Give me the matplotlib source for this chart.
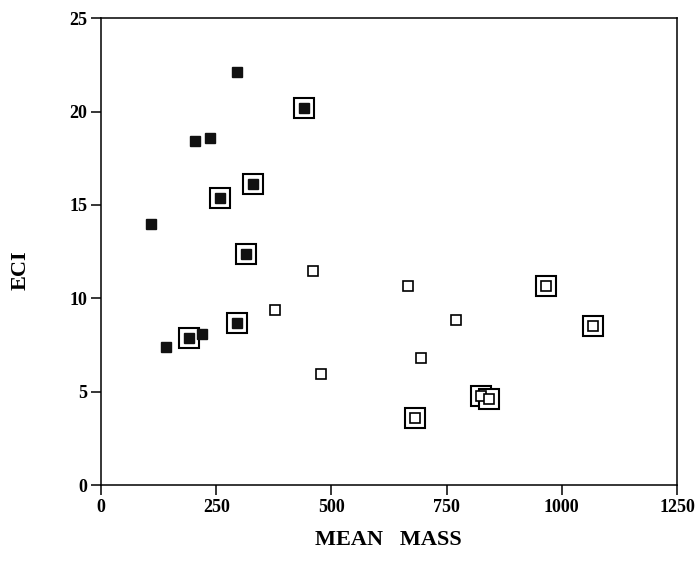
import matplotlib
matplotlib.use("Agg")
import matplotlib.pyplot as plt

# Filled squares (plain)
filled_x = [295, 204, 237, 109, 140, 219]
filled_y = [22.1, 18.4, 18.6, 14.0, 7.4, 8.07]
# Filled squares with outer frame
filled_boxed_x = [441, 330, 259, 314, 296, 191]
filled_boxed_y = [20.2, 16.1, 15.36, 12.36, 8.66, 7.87]
# Open squares (plain)
open_x = [461, 378, 477, 666, 771, 695]
open_y = [11.45, 9.36, 5.96, 10.64, 8.82, 6.82]
# Open squares with outer frame
open_boxed_x = [965, 1068, 682, 825, 841]
open_boxed_y = [10.67, 8.5, 3.57, 4.79, 4.58]

x_ticks = [0, 250, 500, 750, 1000, 1250]
y_ticks = [0, 5, 10, 15, 20, 25]

plt.rcParams['font.family'] = ['Liberation Serif', 'DejaVu Serif']
plt.rcParams['font.weight'] = 'bold'

fig = plt.figure(figsize=(6.99, 5.69), dpi=100)
ax = fig.add_axes([0.1445, 0.1476, 0.9685 - 0.1445, 0.968 - 0.1476])

small = 7.5
big = 15
# outer frames
ax.plot(filled_boxed_x, filled_boxed_y, 's', ms=big, mfc='white', mec='black', mew=1.5, ls='none')
ax.plot(open_boxed_x, open_boxed_y, 's', ms=big, mfc='white', mec='black', mew=1.5, ls='none')
# inner markers
ax.plot(filled_x + filled_boxed_x, filled_y + filled_boxed_y, 's', ms=small,
        mfc='#111111', mec='#111111', mew=1.0, ls='none')
ax.plot(open_x + open_boxed_x, open_y + open_boxed_y, 's', ms=small,
        mfc='white', mec='black', mew=1.2, ls='none')

ax.set_xlim(0, 1250)
ax.set_ylim(0, 25)
ax.set_xticks(x_ticks)
ax.set_yticks(y_ticks)
ax.set_xticklabels([str(v) for v in x_ticks], fontsize=13, fontweight='bold')
ax.set_yticklabels([str(v) for v in y_ticks], fontsize=13, fontweight='bold')
ax.tick_params(direction='out', length=7, width=1.1, pad=3)
for s in ax.spines.values():
    s.set_linewidth(1.1)

fig.text(0.555, 0.051, 'MEAN   MASS', ha='center', va='center', fontsize=16, fontweight='bold')
fig.text(0.029, 0.525, 'ECI', ha='center', va='center', rotation=90, fontsize=16, fontweight='bold')

fig.savefig('out.png', dpi=100)
